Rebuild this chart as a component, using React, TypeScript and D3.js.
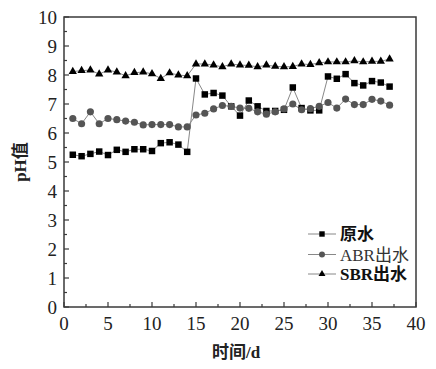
import React from "react";
import * as d3 from "d3";

const days = d3.range(1, 38);
const rawWater = [5.25, 5.2, 5.28, 5.36, 5.24, 5.42, 5.35, 5.44, 5.44, 5.38, 5.65, 5.68, 5.6, 5.35, 7.88, 7.33, 7.38, 7.29, 6.92, 6.6, 7.12, 6.92, 6.76, 6.76, 6.8, 7.57, 6.86, 6.78, 6.78, 7.95, 7.87, 8.03, 7.72, 7.64, 7.79, 7.74, 7.6];
const abrOut = [6.5, 6.32, 6.73, 6.32, 6.5, 6.46, 6.41, 6.37, 6.28, 6.29, 6.29, 6.29, 6.21, 6.21, 6.62, 6.68, 6.83, 6.95, 6.92, 6.86, 6.85, 6.73, 6.65, 6.73, 6.83, 7.0, 6.8, 6.84, 6.92, 7.05, 6.86, 7.17, 6.98, 6.98, 7.16, 7.1, 6.96];
const sbrOut = [8.12, 8.15, 8.17, 8.03, 8.17, 8.1, 7.97, 8.08, 8.1, 8.04, 7.88, 8.07, 8.0, 7.97, 8.38, 8.38, 8.34, 8.28, 8.38, 8.34, 8.33, 8.28, 8.34, 8.3, 8.28, 8.29, 8.38, 8.36, 8.42, 8.45, 8.45, 8.45, 8.49, 8.45, 8.47, 8.47, 8.55];
// legend labels split into latin / cjk parts so each gets its own font
const seriesNames: [string, string][] = [["", "原水"], ["ABR", "出水"], ["SBR", "出水"]];
const xTicks = [0, 5, 10, 15, 20, 25, 30, 35, 40];
const yTicks = [0, 1, 2, 3, 4, 5, 6, 7, 8, 9, 10];

const W = 436;
const H = 369;
const margin = { left: 64, right: 20, top: 17, bottom: 62 };
const SERIF = "Liberation Serif";
const CJK = "Noto Sans CJK SC";
const axisColor = "#3a3a3a";

const x = d3.scaleLinear().domain([0, 40]).range([margin.left, W - margin.right]);
const y = d3.scaleLinear().domain([0, 10]).range([H - margin.bottom, margin.top]);

const series = [
  { parts: seriesNames[0], values: rawWater, symbol: d3.symbolSquare, size: 42, color: "#000" },
  { parts: seriesNames[1], values: abrOut, symbol: d3.symbolCircle, size: 40, color: "#555" },
  { parts: seriesNames[2], values: sbrOut, symbol: d3.symbolTriangle, size: 30, color: "#000" },
];

const line = d3.line<number>().x((_, i) => x(days[i])).y(d => y(d));

const App: React.FC = () => {
  const legendY = [234, 254.5, 274];
  return (
    <svg width={W} height={H} fontFamily={SERIF}
      style={{ position: "absolute", left: 0, top: 0, display: "block", fontFamily: SERIF }}>
      <rect width={W} height={H} fill="#fff" />
      <rect x={x(0)} y={y(10)} width={x(40) - x(0)} height={y(0) - y(10)}
        fill="none" stroke={axisColor} strokeWidth={1.5} />

      <g stroke={axisColor} strokeWidth={1.2}>
        {d3.range(0, 40.01, 2.5).map(v => (
          <line key={"x" + v} x1={x(v)} x2={x(v)} y1={y(0)} y2={y(0) - (v % 5 === 0 ? 5 : 3)} />
        ))}
        {d3.range(0, 10.01, 0.5).map(v => (
          <line key={"y" + v} y1={y(v)} y2={y(v)} x1={x(0)} x2={x(0) + (v % 1 === 0 ? 5 : 3)} />
        ))}
      </g>

      {xTicks.map(t => (
        <text key={"xt" + t} x={x(t)} y={y(0) + 23} textAnchor="middle"
          fontFamily={SERIF} fontSize={19} fill="#222">{String(t)}</text>
      ))}
      {yTicks.map(t => (
        <text key={"yt" + t} x={x(0) - 7} y={y(t)} dy="0.35em" textAnchor="end"
          fontFamily={SERIF} fontSize={19} fill="#222">{String(t)}</text>
      ))}

      <text x={(x(0) + x(40)) / 2 - 4} y={358} textAnchor="middle" fontWeight="bold" fontSize={17} fill="#222">
        <tspan fontFamily={CJK}>时间</tspan>
        <tspan fontFamily={SERIF}>/d</tspan>
      </text>
      <text transform={`translate(26,${(y(0) + y(10)) / 2}) rotate(-90)`} textAnchor="middle"
        fontWeight="bold" fontSize={17} fill="#222">
        <tspan fontFamily={SERIF}>pH</tspan>
        <tspan fontFamily={CJK}>值</tspan>
      </text>

      {series.map((s, k) => (
        <path key={"l" + k} d={line(s.values) || ""} fill="none" stroke="#888" strokeWidth={1} />
      ))}
      {series.map((s, k) => {
        const d = d3.symbol().type(s.symbol).size(s.size)() || "";
        return (
          <g key={"m" + k} fill={s.color}>
            {s.values.map((v, i) => (
              <path key={i} transform={`translate(${x(days[i])},${y(v)})`} d={d} />
            ))}
          </g>
        );
      })}

      {series.map((s, i) => (
        <g key={"lg" + i} transform={`translate(0,${legendY[i]})`}>
          <line x1={308} x2={336} y1={0} y2={0} stroke="#888" strokeWidth={1} />
          <path transform="translate(322,0)" d={d3.symbol().type(s.symbol).size(s.size * 0.7)() || ""} fill={s.color} />
          <text x={340} y={0} dy="0.36em" fontSize={17}
            fontWeight={i === 1 ? "normal" : "bold"} fill={i === 1 ? "#333" : "#111"}>
            {s.parts[0] ? <tspan fontFamily={SERIF}>{s.parts[0]}</tspan> : null}
            <tspan fontFamily={CJK}>{s.parts[1]}</tspan>
          </text>
        </g>
      ))}
    </svg>
  );
};

export default App;
